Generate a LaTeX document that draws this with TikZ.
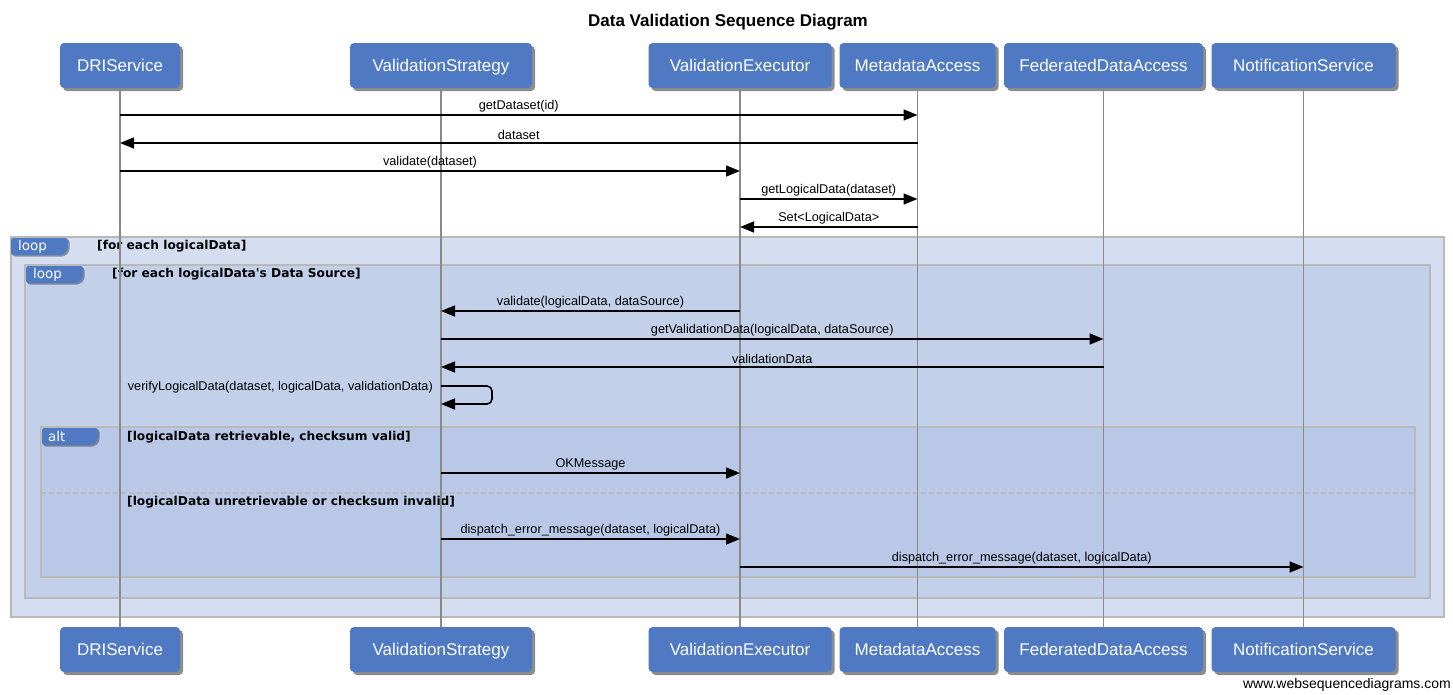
\documentclass[tikz,border=0pt]{standalone}
\usepackage{fontspec}
\setmainfont{Liberation Sans}
\newfontfamily\dvs{DejaVu Sans}
\usetikzlibrary{shadows,arrows.meta,calc}
\definecolor{boxblue}{HTML}{4F79C2}
\definecolor{outerbg}{HTML}{D5DDF0}
\definecolor{innerbg}{HTML}{C3D0EA}
\definecolor{altbg}{HTML}{B8C8E6}
\definecolor{framegray}{HTML}{B9B9B9}
\definecolor{lifegray}{HTML}{8A8A8A}
\tikzset{
  part/.style={fill=boxblue, rounded corners=4pt, minimum height=45pt, text=white,
    font=\fontsize{17}{20}\selectfont, inner xsep=0pt, text height=12.2pt, text depth=0pt,
    drop shadow={shadow xshift=3pt, shadow yshift=-3pt, fill=black, opacity=0.45}},
  msg/.style={draw=black, line width=1.6pt, -{Triangle[length=14pt,width=11pt]}},
  mlabel/.style={font=\fontsize{12.7}{14}\selectfont, inner sep=0pt},
  frame/.style={draw=framegray, line width=2pt},
  tabshape/.style={fill=boxblue, rounded corners=2.5pt,
    drop shadow={shadow xshift=1.5pt, shadow yshift=-1.5pt, fill=black, opacity=0.35}},
  tabtext/.style={font=\dvs\fontsize{13.5}{15}\selectfont, text=white, anchor=west, inner sep=0pt},
  guard/.style={font=\dvs\bfseries\fontsize{12.2}{14}\selectfont, anchor=west, inner sep=0pt},
  lifeline/.style={draw=lifegray, line width=1.6pt}
}
\begin{document}
\begin{tikzpicture}[x=1pt,y=-1pt]
\useasboundingbox[fill=white] (0,0) rectangle (1453,694);

% title
\node[font=\bfseries\fontsize{17}{20}\selectfont] (title) at (728,22) {Data Validation Sequence Diagram};

% fragments
\draw[frame, fill=outerbg] (11,237) rectangle (1444,617);
\draw[frame, fill=innerbg] (25,265) rectangle (1430,598);
\draw[frame, fill=altbg] (41,427) rectangle (1415,577);
\draw[framegray, line width=1.2pt, dash pattern=on 5pt off 3pt] (41,493) -- (1415,493);

% tabs
\path[tabshape] (11,238) -- (68,238) -- (68,250) -- (63,255) -- (11,255) -- cycle;
\node[tabtext] (tab1) at (18,246.5) {loop};
\node[guard] (g1) at (97,246.5) {[for each logicalData]};
\path[tabshape] (26,266) -- (83,266) -- (83,278) -- (78,283) -- (26,283) -- cycle;
\node[tabtext] (tab2) at (33,274.5) {loop};
\node[guard] (g2) at (112,274.5) {[for each logicalData's Data Source]};
\path[tabshape] (42,428) -- (98,428) -- (98,440) -- (93,445) -- (42,445) -- cycle;
\node[tabtext] (tab3) at (48,436.5) {alt};
\node[guard] (g3) at (127,437) {[logicalData retrievable, checksum valid]};
\node[guard] (g4) at (127,502) {[logicalData unretrievable or checksum invalid]};

% participants
\node[part, minimum width=120pt] (dri) at (120,65.5) {DRIService};
\node[part, minimum width=182pt] (vs) at (441,65.5) {ValidationStrategy};
\node[part, minimum width=183pt] (ve) at (740,65.5) {ValidationExecutor};
\node[part, minimum width=156pt] (ma) at (917.5,65.5) {MetadataAccess};
\node[part, minimum width=199pt] (fda) at (1103.5,65.5) {FederatedDataAccess};
\node[part, minimum width=184pt] (ns) at (1303.5,65.5) {NotificationService};

\node[part, minimum width=120pt] (dri2) at (120,649.5) {DRIService};
\node[part, minimum width=182pt] (vs2) at (441,649.5) {ValidationStrategy};
\node[part, minimum width=183pt] (ve2) at (740,649.5) {ValidationExecutor};
\node[part, minimum width=156pt] (ma2) at (917.5,649.5) {MetadataAccess};
\node[part, minimum width=199pt] (fda2) at (1103.5,649.5) {FederatedDataAccess};
\node[part, minimum width=184pt] (ns2) at (1303.5,649.5) {NotificationService};

% lifelines
\foreach \p in {dri,vs,ve,ma,fda,ns}{
  \draw[lifeline] (\p.south) -- (\p2.north);
}

% messages
\draw[msg] (dri.south |- 0,115) -- node[mlabel, above=2.5pt] {getDataset(id)} (ma.south |- 0,115);
\draw[msg] (ma.south |- 0,143) -- node[mlabel, above=2.5pt] {dataset} (dri.south |- 0,143);
\draw[msg] (dri.south |- 0,171) -- node[mlabel, above=2.5pt] {validate(dataset)} (ve.south |- 0,171);
\draw[msg] (ve.south |- 0,199) -- node[mlabel, above=2.5pt] {getLogicalData(dataset)} (ma.south |- 0,199);
\draw[msg] (ma.south |- 0,227) -- node[mlabel, above=2.5pt] {Set<LogicalData>} (ve.south |- 0,227);

\draw[msg] (ve.south |- 0,311) -- node[mlabel, above=2.5pt] {validate(logicalData, dataSource)} (vs.south |- 0,311);
\draw[msg] (vs.south |- 0,339) -- node[mlabel, above=2.5pt] {getValidationData(logicalData, dataSource)} (fda.south |- 0,339);
\draw[msg] (fda.south |- 0,367) -- node[mlabel, above=2.5pt] {validationData} (vs.south |- 0,367);

\draw[msg, rounded corners=5pt] (vs.south |- 0,386) -- ++(51,0) -- ++(0,18) -- (vs.south |- 0,404);
\node[mlabel, anchor=east] (selflbl) at ($(vs.south |- 0,387)+(-8,0)$) {verifyLogicalData(dataset, logicalData, validationData)};

\draw[msg] (vs.south |- 0,473) -- node[mlabel, above=2.5pt] {OKMessage} (ve.south |- 0,473);
\draw[msg] (vs.south |- 0,539) -- node[mlabel, above=2.5pt] {dispatch\_error\_message(dataset, logicalData)} (ve.south |- 0,539);
\draw[msg] (ve.south |- 0,567) -- node[mlabel, above=2.5pt] {dispatch\_error\_message(dataset, logicalData)} (ns.south |- 0,567);

% watermark
\node[font=\fontsize{14}{16}\selectfont, anchor=east, inner sep=0pt] (wm) at (1451,685) {www.websequencediagrams.com};
\end{tikzpicture}
\end{document}
